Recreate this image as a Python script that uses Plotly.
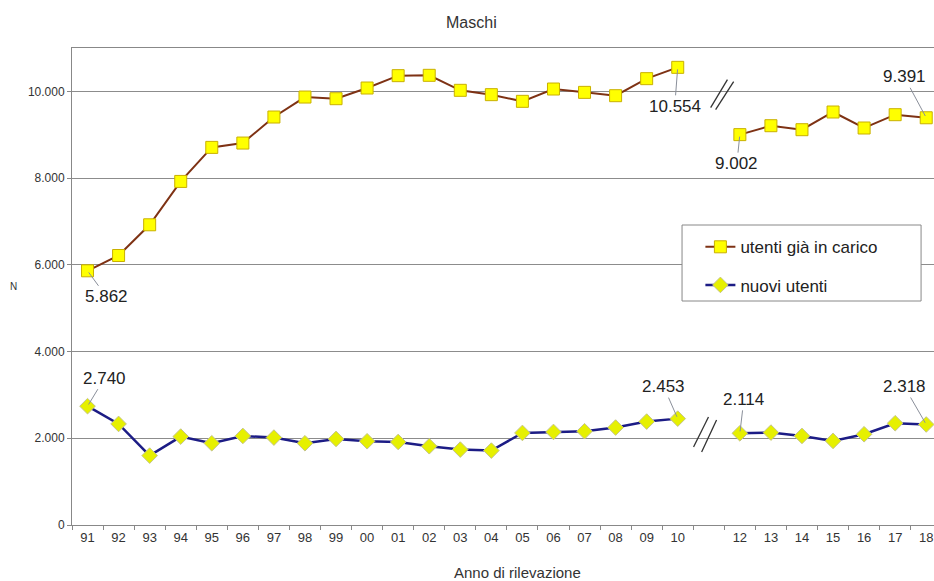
import plotly.graph_objects as go

# ---- data ----
years = ["91", "92", "93", "94", "95", "96", "97", "98", "99", "00",
         "01", "02", "03", "04", "05", "06", "07", "08", "09", "10",
         " ", "12", "13", "14", "15", "16", "17", "18"]
utenti_carico = [5862, 6215, 6923, 7923, 8708, 8808, 9408, 9869, 9831, 10077,
                 10362, 10370, 10024, 9924, 9770, 10054, 9977, 9900, 10293, 10554,
                 None, 9002, 9208, 9116, 9524, 9155, 9462, 9391]
nuovi_utenti = [2740, 2331, 1600, 2039, 1885, 2054, 2016, 1885, 1985, 1931,
                1915, 1816, 1739, 1716, 2123, 2146, 2162, 2247, 2385, 2453,
                None, 2114, 2131, 2054, 1939, 2093, 2347, 2318]
y_ticks = [0, 2000, 4000, 6000, 8000, 10000]

FONT = "Liberation Sans, Arial, sans-serif"

fig = go.Figure()
fig.add_trace(go.Scatter(
    x=years, y=utenti_carico, mode="lines+markers", name="utenti già in carico",
    legendgroup="a",
    line=dict(color="#7e3214", width=2),
    marker=dict(symbol="square", size=12, color="#ffff00",
                line=dict(color="#c9b000", width=1)),
))
fig.add_trace(go.Scatter(
    x=years, y=nuovi_utenti, mode="lines+markers", name="nuovi utenti",
    legendgroup="b",
    line=dict(color="#1c1c85", width=2.5),
    marker=dict(symbol="diamond", size=12, color="#e6f000",
                line=dict(color="#c4c48a", width=1)),
))

# value labels with leader lines (category given by label, placed by index)
labels = [
    ("91", utenti_carico, 19, 26), ("10", utenti_carico, -3, 39),
    ("12", utenti_carico, -3, 29), ("18", utenti_carico, -22, -41),
    ("91", nuovi_utenti, 17, -28), ("10", nuovi_utenti, -14, -32),
    ("12", nuovi_utenti, 4, -34), ("18", nuovi_utenti, -22, -38),
]
annotations = []
for xc, series, ax, ay in labels:
    i = years.index(xc)
    v = series[i]
    annotations.append(dict(
        x=i, y=v, xref="x", yref="y", text=f"{v:,}".replace(",", "."),
        showarrow=True, arrowhead=0, arrowwidth=1, arrowcolor="#8a8f9a",
        ax=ax, ay=ay, font=dict(family=FONT, size=17, color="#222222"),
        standoff=2,
    ))

annotations += [
    dict(text="Maschi", x=0.464, y=1.0545, xref="paper", yref="paper",
         showarrow=False, font=dict(family=FONT, size=16, color="#333333"),
         xanchor="center", yanchor="middle"),
    dict(text="Anno di rilevazione", x=0.517, y=-0.1006, xref="paper", yref="paper",
         showarrow=False, font=dict(family=FONT, size=15, color="#333333"),
         xanchor="center", yanchor="middle"),
    dict(text="N", x=-0.0673, y=0.499, xref="paper", yref="paper",
         showarrow=False, font=dict(family=FONT, size=10, color="#333333"),
         xanchor="center", yanchor="middle"),
]

shapes = [
    # legend box
    dict(type="rect", xref="paper", yref="paper", x0=0.7077, x1=0.985,
         y0=0.4696, y1=0.6289, fillcolor="white",
         line=dict(color="#888888", width=1), layer="above"),
]
# axis break marks
for (x0, y0, x1, y1) in [(20.06, 9624, 20.60, 10270), (20.22, 9578, 20.80, 10224),
                         (19.51, 1800, 19.99, 2492), (19.77, 1685, 20.25, 2423)]:
    shapes.append(dict(type="line", xref="x", yref="y", x0=x0, y0=y0, x1=x1, y1=y1,
                       line=dict(color="#333333", width=1.3), layer="above"))

fig.update_layout(
    width=934, height=581,
    margin=dict(l=72, r=0, t=48, b=56),
    paper_bgcolor="white", plot_bgcolor="white",
    separators=",.",
    font=dict(family=FONT, color="#333333"),
    showlegend=True,
    legend=dict(x=0.729, y=0.62, xanchor="left", yanchor="top",
                bgcolor="rgba(0,0,0,0)", borderwidth=0,
                font=dict(family=FONT, size=17, color="#222222"),
                tracegroupgap=13, itemwidth=30),
    annotations=annotations,
    shapes=shapes,
    xaxis=dict(type="category", categoryorder="array", categoryarray=years,
               range=[-0.5, 27.25], tickson="boundaries", ticks="outside",
               ticklen=4, tickcolor="#888888", showline=True, linecolor="#888888",
               mirror=True, showgrid=False,
               tickfont=dict(family=FONT, size=13, color="#333333")),
    yaxis=dict(range=[0, 11000], tickvals=y_ticks, tickformat=",.0f",
               ticks="outside", ticklen=4, tickcolor="#888888",
               showline=True, linecolor="#888888", showgrid=True,
               gridcolor="#8c8c8c", gridwidth=1, zeroline=False,
               tickfont=dict(family=FONT, size=12, color="#333333")),
)

fig.write_html(
    "out.html",
    config={"displayModeBar": False},
    post_script="document.body.style.margin='0';document.body.style.overflow='hidden';",
)
